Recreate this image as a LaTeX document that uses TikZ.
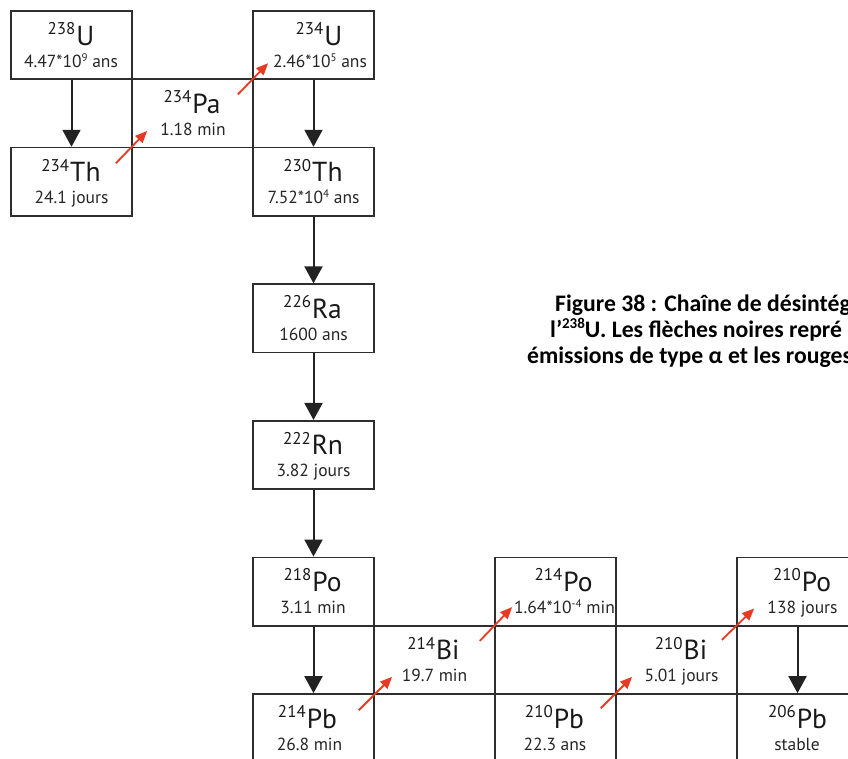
\documentclass[tikz,border=0pt]{standalone}
\usepackage{fontspec}
\setmainfont{PT Sans}
\newfontfamily\capfont{Carlito}
\usetikzlibrary{arrows.meta,calc}
\definecolor{boxline}{HTML}{2E2E2E}
\definecolor{alphablack}{HTML}{222222}
\definecolor{betared}{HTML}{E53B24}
\newcommand\masssup[1]{\raisebox{10.5pt}{\fontsize{17}{17}\selectfont #1}\kern1pt}
\newcommand\expo[1]{\raisebox{6pt}{\fontsize{11}{11}\selectfont #1}}
\newcommand\nucl[8]{%
  \node[cell] (#1) at (#2,#3+34.15) {};
  \node[bigtxt] (#1-n) at (#6,#3+34) {\masssup{#4}#5};
  \node[smalltxt] (#1-t) at (#8,#3+56) {#7};
}
\begin{document}
\begin{tikzpicture}[x=1pt,y=-1pt,
  cell/.style={draw=boxline,line width=1.7pt,minimum width=121pt,minimum height=68.3pt,inner sep=0pt},
  bigtxt/.style={anchor=base,inner sep=0pt,text=black!90,font=\fontsize{27.5}{30}\selectfont},
  smalltxt/.style={anchor=base,inner sep=0pt,text=black!85,font=\fontsize{17.5}{20}\selectfont},
  alphaarrow/.style={draw=alphablack,line width=2pt,-{Triangle[length=17pt,width=18pt]}},
  betaarrow/.style={draw=betared,line width=1.8pt,-{Triangle[length=12pt,width=10pt]}},
  captxt/.style={anchor=base west,inner sep=0pt,font=\capfont\bfseries\fontsize{23.7}{26}\selectfont}]
\useasboundingbox (0,0) rectangle (848,758);
\fill[white] (0,0) rectangle (848,758);
\clip (0,0) rectangle (848,758);
% boxes: name, box cx, box top, mass, symbol, big cx, small text, small cx
\nucl{u238}{71.5}{11}{238}{U}{71}{4.47*10\expo{9} ans}{71}
\nucl{u234}{313.5}{11}{234}{U}{319}{2.46*10\expo{5} ans}{320}
\nucl{pa234}{192.5}{79.3}{234}{Pa}{192}{1.18 min}{193}
\nucl{th234}{71.5}{147.6}{234}{Th}{71}{24.1 jours}{71.5}
\nucl{th230}{313.5}{147.6}{230}{Th}{313}{7.52*10\expo{4} ans}{313.5}
\nucl{ra226}{313.5}{284.2}{226}{Ra}{312.5}{1600 ans}{313.5}
\nucl{rn222}{313.5}{420.8}{222}{Rn}{313}{3.82 jours}{313.5}
\nucl{po218}{313.5}{557.4}{218}{Po}{312.5}{3.11 min}{313}
\nucl{bi214}{434.5}{625.7}{214}{Bi}{433.5}{19.7 min}{434.5}
\nucl{po214}{555.5}{557.4}{214}{Po}{563.5}{1.64*10\expo{-4} min}{564.5}
\nucl{pb214}{313.5}{694}{214}{Pb}{307.5}{26.8 min}{309.5}
\nucl{pb210}{555.5}{694}{210}{Pb}{554.5}{22.3 ans}{555}
\nucl{bi210}{676.5}{625.7}{210}{Bi}{681}{5.01 jours}{681.5}
\nucl{po210}{797.5}{557.4}{210}{Po}{802}{138 jours}{802.5}
\nucl{pb206}{797.5}{694}{206}{Pb}{797.5}{stable}{797}
% alpha decays
\draw[alphaarrow] (u238.south) -- (th234.north);
\draw[alphaarrow] (u234.south) -- (th230.north);
\draw[alphaarrow] (th230.south) -- (ra226.north);
\draw[alphaarrow] (ra226.south) -- (rn222.north);
\draw[alphaarrow] (rn222.south) -- (po218.north);
\draw[alphaarrow] (po218.south) -- (pb214.north);
\draw[alphaarrow] (po210.south) -- (pb206.north);
% beta decays
\draw[betaarrow] ($(th234.north east)+(-17,16.5)$) -- ($(pa234.south west)+(16,-17.5)$);
\draw[betaarrow] ($(pa234.north east)+(-16,16)$) -- ($(u234.south west)+(16,-17)$);
\draw[betaarrow] ($(pb214.north east)+(-16,17)$) -- ($(bi214.south west)+(19,-18)$);
\draw[betaarrow] ($(bi214.north east)+(-16,16)$) -- ($(po214.south west)+(18,-19.5)$);
\draw[betaarrow] ($(pb210.north east)+(-16,15)$) -- ($(bi210.south west)+(17,-18)$);
\draw[betaarrow] ($(bi210.north east)+(-16,15)$) -- ($(po210.south west)+(18,-18)$);
% caption
\node[captxt] (cap1) at (555,311) {Figure 38 : Chaîne de désintég};
\node[captxt] (cap2) at (550,337) {l’\raisebox{8.5pt}{\fontsize{15}{15}\selectfont 238}U. Les flèches noires repré};
\node[captxt] (cap3) at (527,363) {émissions de type α et les rouges};
\end{tikzpicture}
\end{document}
